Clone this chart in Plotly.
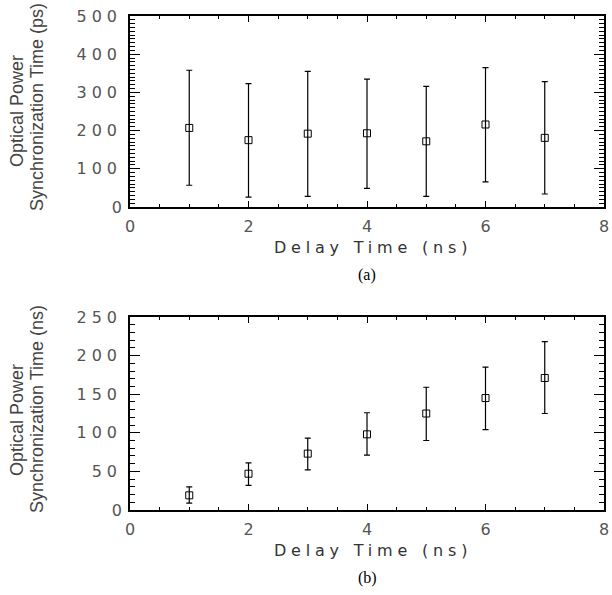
import plotly.graph_objects as go

delay_ns = [1, 2, 3, 4, 5, 6, 7]

# (a) synchronization time, ps
sync_a = [207, 175, 192, 193, 172, 216, 181]
upper_a = [358, 323, 355, 335, 316, 365, 328]
lower_a = [57, 26, 28, 49, 28, 66, 34]

# (b) synchronization time, ns
sync_b = [19, 47, 73, 98, 125, 145, 171]
upper_b = [30, 61, 93, 126, 159, 185, 218]
lower_b = [9, 32, 52, 71, 90, 104, 125]

x_ticks = [0, 2, 4, 6, 8]
y_ticks_a = [0, 100, 200, 300, 400, 500]
y_ticks_b = [0, 50, 100, 150, 200, 250]

W, H = 612, 595
def px_x(p): return p / W
def px_y(p): return 1 - p / H

fig = go.Figure()

def add_series(x, y, up, lo, xa, ya):
    fig.add_trace(go.Scatter(
        x=x, y=y, mode="markers",
        marker=dict(symbol="square-open", size=7, color="black", line=dict(width=1)),
        error_y=dict(type="data", symmetric=False,
                     array=[u - v for u, v in zip(up, y)],
                     arrayminus=[v - l for v, l in zip(y, lo)],
                     color="black", thickness=1.2, width=3),
        xaxis=xa, yaxis=ya, showlegend=False))

add_series(delay_ns, sync_a, upper_a, lower_a, "x", "y")
add_series(delay_ns, sync_b, upper_b, lower_b, "x2", "y2")

tick_font = dict(family="DejaVu Sans", size=16, color="#555")
common_x = dict(range=[0, 8], tickvals=x_ticks, ticks="inside", ticklen=6,
                minor=dict(dtick=0.5, ticks="inside", ticklen=3, tickcolor="black"),
                showline=True, linecolor="black", linewidth=1.5, mirror="ticks",
                showgrid=False, zeroline=False, tickfont=tick_font, tickcolor="black",
                ticklabeloverflow="allow", automargin=False, ticklabelstandoff=4)
common_y = dict(ticks="inside", ticklen=10, showline=True, linecolor="black",
                linewidth=1.5, mirror="ticks", showgrid=False, zeroline=False,
                tickfont=tick_font, tickcolor="black", ticklabeloverflow="allow",
                automargin=False, ticklabelstandoff=3)

fig.update_layout(
    width=W, height=H,
    margin=dict(l=0, r=0, t=0, b=0, pad=0, autoexpand=False),
    paper_bgcolor="white", plot_bgcolor="white",
    xaxis=dict(domain=[px_x(130), px_x(604)], anchor="y", **common_x),
    yaxis=dict(domain=[px_y(207), px_y(16)], anchor="x", range=[0, 500],
               tickvals=y_ticks_a,
               minor=dict(dtick=10, ticks="inside", ticklen=5, tickcolor="black"),
               **common_y),
    xaxis2=dict(domain=[px_x(130), px_x(604)], anchor="y2", **common_x),
    yaxis2=dict(domain=[px_y(510), px_y(317)], anchor="x2", range=[0, 250],
                tickvals=y_ticks_b,
                minor=dict(dtick=10, ticks="inside", ticklen=5, tickcolor="black"),
                **common_y),
)

title_font = dict(family="DejaVu Sans", size=16, color="#333")
ytitle_font = dict(family="Liberation Sans", size=18, color="#444")
cap_font = dict(family="Liberation Serif", size=16, color="black")

for ytop, ybot, unit, cap, capy, c1, c2 in [
        (16, 207, "ps", "(a)", 275, 111, 107),
        (317, 510, "ns", "(b)", 578, 420, 409)]:
    fig.add_annotation(text="Delay Time (ns)", x=px_x(373), y=px_y(ybot + 40),
                       xref="paper", yref="paper", showarrow=False, font=title_font,
                       xanchor="center", yanchor="middle")
    fig.add_annotation(text="Optical Power", x=px_x(17), y=px_y(c1),
                       xref="paper", yref="paper", showarrow=False, textangle=-90,
                       font=ytitle_font, xanchor="center", yanchor="middle")
    fig.add_annotation(text=f"Synchronization Time ({unit})", x=px_x(37), y=px_y(c2),
                       xref="paper", yref="paper", showarrow=False, textangle=-90,
                       font=ytitle_font, xanchor="center", yanchor="middle")
    fig.add_annotation(text=cap, x=px_x(367), y=px_y(capy), xref="paper", yref="paper",
                       showarrow=False, font=cap_font, xanchor="center", yanchor="middle")

post = """
document.documentElement.style.margin='0';
document.body.style.margin='0';
document.body.style.overflow='hidden';
var gd = document.getElementById('{plot_id}');
function spread(){
  gd.querySelectorAll('.xtick text, .x2tick text, .ytick text, .y2tick text').forEach(function(t){
    if (t.textContent.length > 1) { t.style.letterSpacing='5px'; }
  });
  gd.querySelectorAll('.annotation-text').forEach(function(t){
    if (t.textContent.indexOf('Delay') === 0) { t.style.letterSpacing='4.8px'; }
  });
}
spread();
gd.on('plotly_afterplot', spread);
"""

fig.write_html("out.html", post_script=post, config={"displayModeBar": False})
